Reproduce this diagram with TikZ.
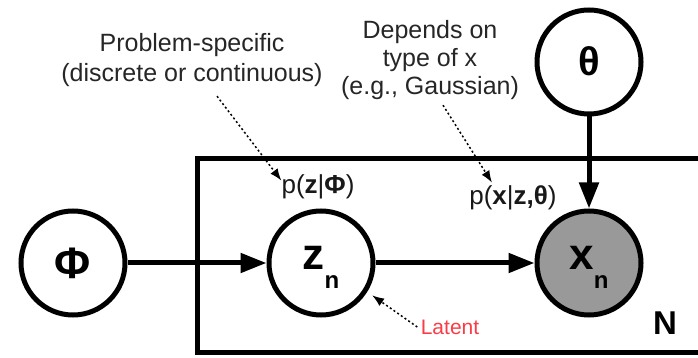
\documentclass[tikz,border=0pt]{standalone}
\usepackage{fontspec}
\setmainfont{Liberation Sans}
\usetikzlibrary{positioning, arrows.meta}
\definecolor{latentred}{RGB}{250,60,70}
\newcommand{\subvar}[2]{{\fontsize{44}{44}\selectfont #1}\raisebox{-19pt}{\fontsize{24}{24}\selectfont #2}}

\begin{document}
\begin{tikzpicture}[
    x=1pt, y=1pt,
    >={Triangle[length=26pt,width=19pt]},
    on grid,
    rv/.style={
        draw,
        circle,
        line width=5pt,
        minimum size=104pt,
        inner sep=0pt,
        text height=20pt,
        text depth=6.5pt,
        font=\bfseries\fontsize{40}{40}\selectfont
    },
    note/.style={align=center, text=black!85, font=\fontsize{25}{30}\selectfont},
    dist/.style={text=black!90, inner sep=0pt, font=\fontsize{26}{26}\selectfont},
    hint/.style={-{Latex[length=12pt,width=9pt]}, line width=1.5pt, dash pattern=on 2pt off 2.5pt},
    link/.style={->, line width=5pt}
]
\useasboundingbox (0,0) rectangle (698,358);

% variables
\node[rv, text height=, text depth=, font=\bfseries\fontsize{44}{44}\selectfont] (phi) at (73,95) {Φ};
\node[rv, right=248pt of phi] (z) {\subvar{z}{n}};
\node[rv, fill=black!40, right=268pt of z] (x) {\subvar{x}{n}};
\node[rv, text height=28pt, text depth=0pt, above=201pt of x] (theta) {θ};

% plate
\draw[line width=5pt] (710,199) -- (197,199) -- (197,5) -- (710,5);
\node[font=\bfseries\fontsize{33}{33}\selectfont] (N) at (665,35) {N};

% distributions
\node[dist] (pz) at (318,171) {p(\textbf{z}|\textbf{Φ})};
\node[dist] (px) at (513,160) {p(\textbf{x}|\textbf{z,θ})};

% notes
\node[note] (prob) at (192,298) {Problem-specific\\(discrete or continuous)};
\node[note, font=\fontsize{25}{28}\selectfont] (dep) at (430,298) {Depends on\\type of x\\(e.g., Gaussian)};
\node[text=latentred, font=\fontsize{21}{21}\selectfont] (lat) at (450,31) {Latent};

% edges
\path[link]
(phi) edge (z)
(z) edge (x)
(theta) edge (x);
\draw[hint] ([xshift=25pt,yshift=-6pt]prob.south) -- ([yshift=-6pt]pz.north west);
\draw[hint] ([xshift=13pt,yshift=-2pt]dep.south) -- ([xshift=-21pt,yshift=3pt]px.north);
\draw[hint, shorten >=6pt] (lat.west) -- (z.-32);
\end{tikzpicture}
\end{document}
